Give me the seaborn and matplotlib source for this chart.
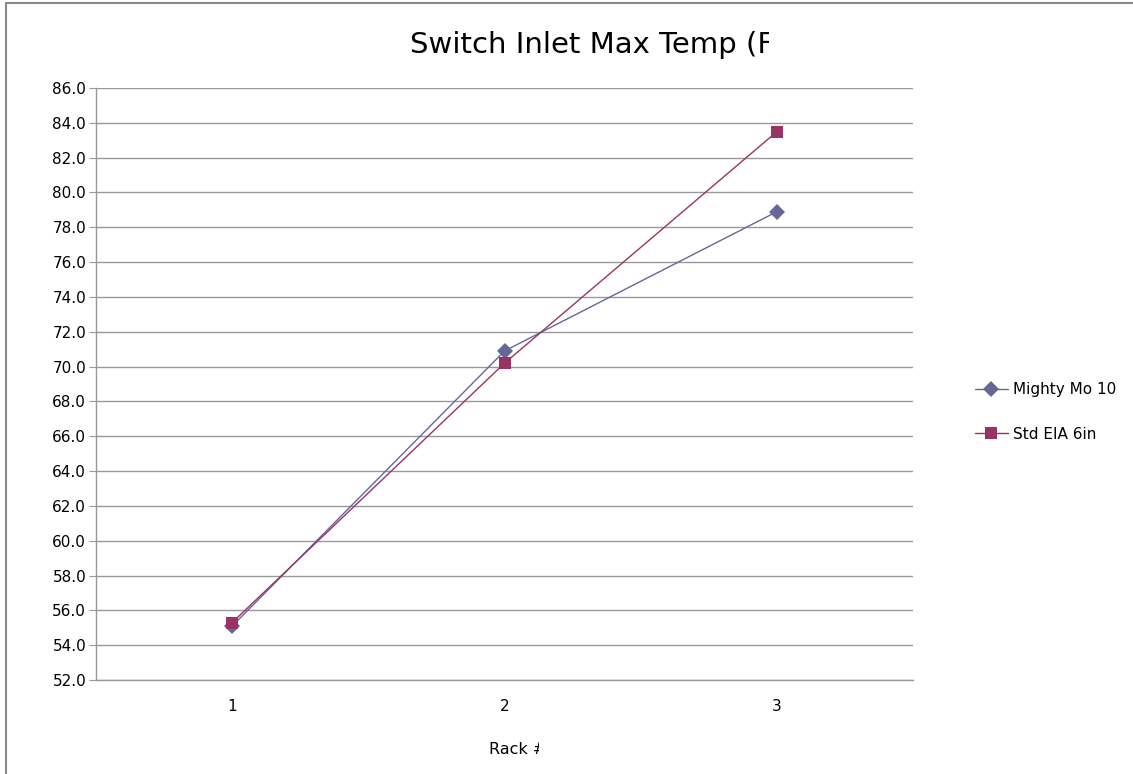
import pandas as pd
import matplotlib.pyplot as plt
import seaborn as sns
from matplotlib.transforms import Bbox, TransformedBbox

racks = [1, 2, 3]
mighty_mo = [55.1, 70.9, 78.9]
std_eia = [55.3, 70.2, 83.5]
series_names = ["Mighty Mo 10", "Std EIA 6in"]
y_ticks = [52 + 2 * i for i in range(18)]

df = pd.DataFrame({
    "Rack": racks * 2,
    "Temp": mighty_mo + std_eia,
    "Series": [series_names[0]] * 3 + [series_names[1]] * 3,
})

sns.set_style("white")
plt.rcParams['font.family'] = ['DejaVu Sans']
plt.rcParams['text.color'] = 'black'
plt.rcParams['xtick.labelcolor'] = 'black'
plt.rcParams['ytick.labelcolor'] = 'black'
plt.rcParams['axes.labelcolor'] = 'black'

fig = plt.figure(figsize=(11.33, 7.74), dpi=100)
ax = fig.add_axes([0.0847, 0.1214, 0.7213, 0.7649])

palette = {series_names[0]: "#666699", series_names[1]: "#993366"}
sns.lineplot(data=df, x="Rack", y="Temp", hue="Series", style="Series",
             markers={series_names[0]: "D", series_names[1]: "s"},
             dashes=False, palette=palette, linewidth=1, markersize=8.5,
             markeredgewidth=0, ax=ax)

ax.set_xlim(0.5, 3.5)
ax.set_ylim(52, 86)
ax.set_yticks(y_ticks)
ax.set_yticklabels([f"{v:.1f}" for v in y_ticks], fontsize=11)
ax.set_xticks(racks)
ax.set_xticklabels([str(r) for r in racks], fontsize=11)
ax.set_xticks([1.5, 2.5], minor=True)
ax.tick_params(axis="x", which="major", length=0, pad=14)
ax.tick_params(axis="x", which="minor", length=6, color="#999999", direction="out")
ax.tick_params(axis="y", length=5, color="#999999", direction="out", left=True, pad=2)
ax.yaxis.grid(True, color="#999999", linewidth=1)
ax.set_axisbelow(True)
for side in ["top", "right"]:
    ax.spines[side].set_visible(False)
for side in ["left", "bottom"]:
    ax.spines[side].set_color("#999999")
    ax.spines[side].set_linewidth(1)

ax.set_ylabel("")
xl = ax.set_xlabel("Rack #", fontsize=11.5)
ax.xaxis.set_label_coords(0.516, -0.105)

handles, labels = ax.get_legend_handles_labels()
fig.legend(handles, labels, loc="center left", bbox_to_anchor=(0.848, 0.468),
           frameon=False, fontsize=11, handlelength=2.2, labelspacing=1.95,
           handletextpad=0.3)
ax.get_legend().remove()

# title and axis label are cut off at the right, as in the original chart
title = fig.text(0.3615, 0.942, "Switch Inlet Max Temp (F", fontsize=21, va="center", ha="left")
title.set_clip_box(TransformedBbox(Bbox([[0, 0], [0.679, 1]]), fig.transFigure))
title.set_clip_on(True)
xl.set_clip_box(TransformedBbox(Bbox([[0, 0], [0.4755, 1]]), fig.transFigure))
xl.set_clip_on(True)

# outer chart border (only left and top visible)
fig.add_artist(plt.Line2D([0.0053, 0.0053], [0, 0.996], transform=fig.transFigure, color="#888888", linewidth=1.5))
fig.add_artist(plt.Line2D([0.0053, 1], [0.996, 0.996], transform=fig.transFigure, color="#888888", linewidth=1.5))

plt.savefig("out.png", dpi=100)
